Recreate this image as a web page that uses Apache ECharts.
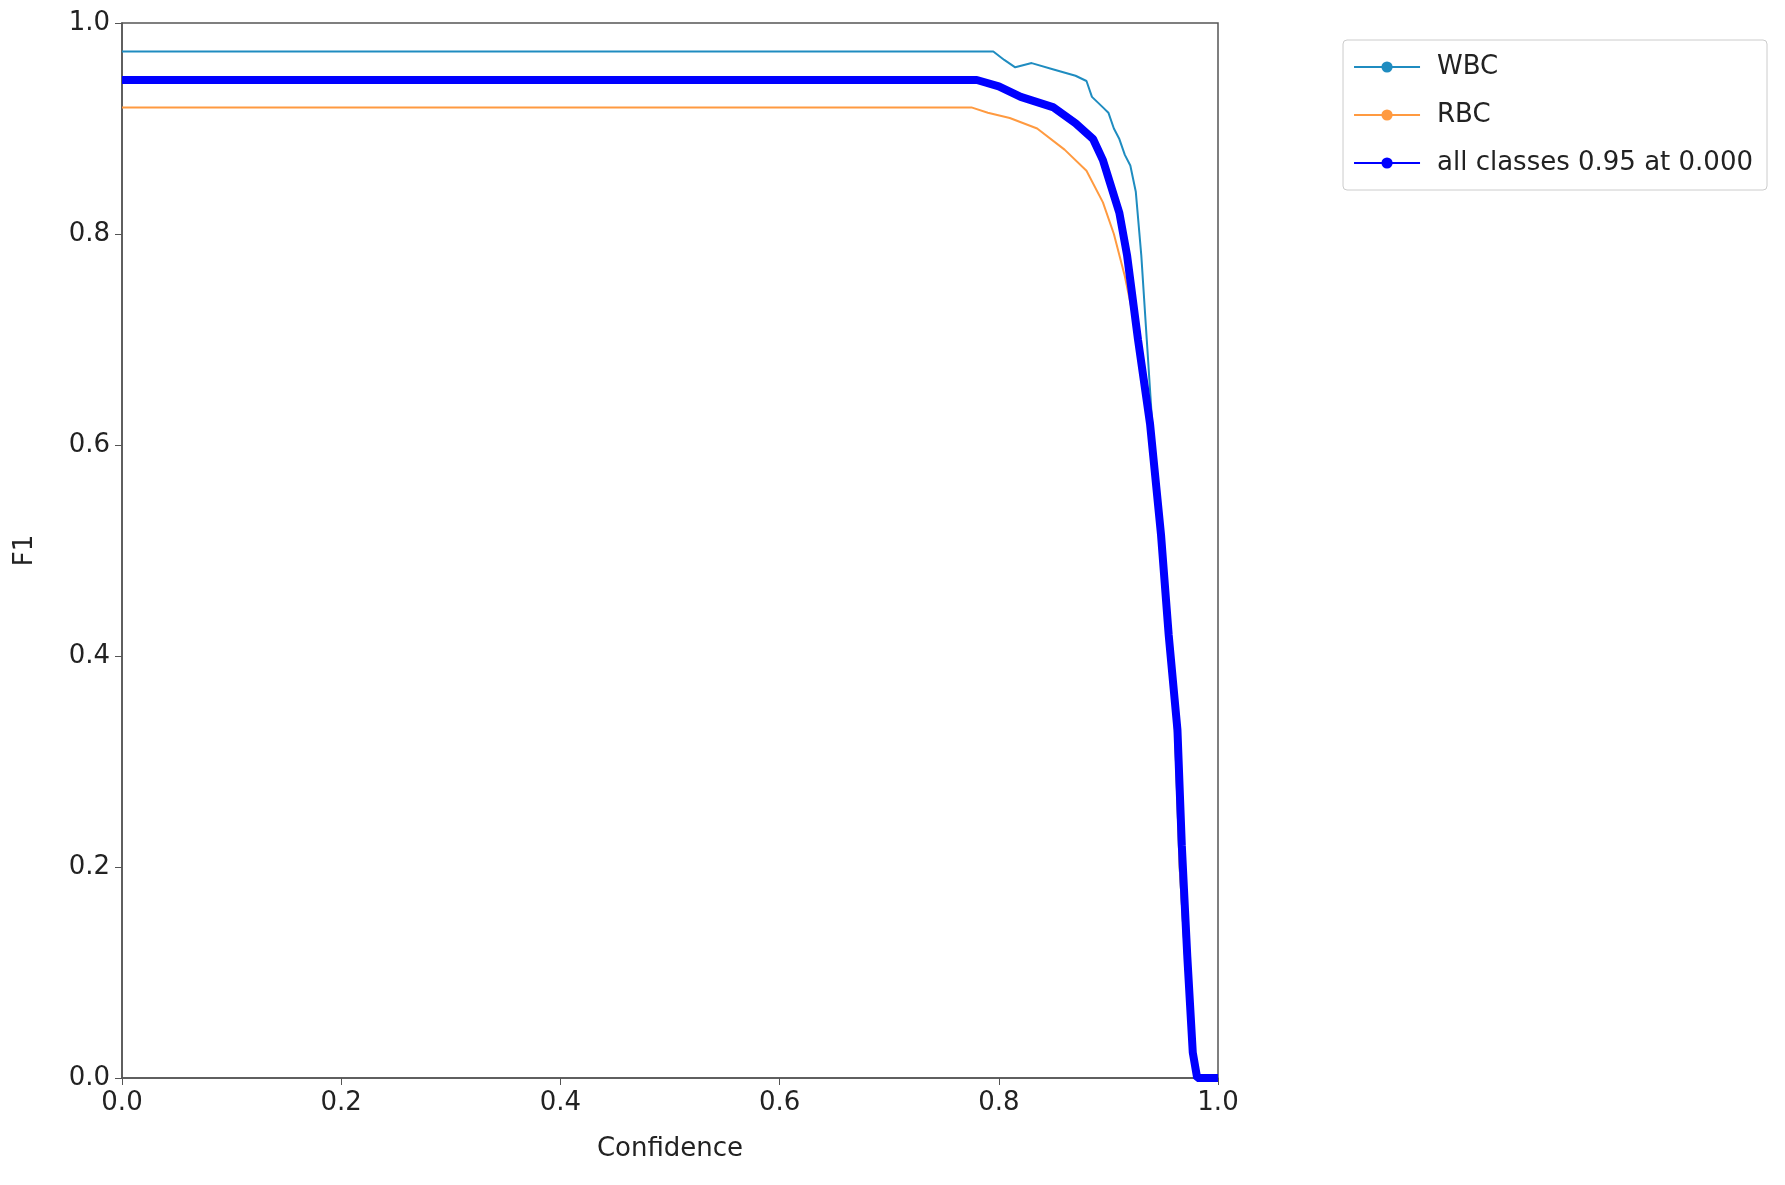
<!DOCTYPE html>
<html lang="en">
  <head>
    <meta charset="UTF-8">
    <title>F1 curve</title>
    <style>
      html, body { margin: 0; background: #fff; }
      .chart { width: 1785px; height: 1185px; }
    </style>
  </head>
  <body>
    <div id="chart" class="chart"></div>
    <script src="https://cdn.jsdelivr.net/npm/echarts@6/dist/echarts.min.js"></script>
    <script type="text/javascript">
      // confidence / F1 pairs
      var wbcData = [[0, 0.973], [0.795, 0.973], [0.805, 0.965], [0.815, 0.958], [0.83, 0.962], [0.85, 0.956], [0.87, 0.95],
        [0.88, 0.945], [0.885, 0.93], [0.895, 0.92], [0.9, 0.915], [0.905, 0.9], [0.91, 0.89], [0.915, 0.875],
        [0.92, 0.865], [0.925, 0.84], [0.93, 0.78], [0.935, 0.70], [0.94, 0.62], [0.95, 0.50], [0.96, 0.35],
        [0.965, 0.20], [0.972, 0.08], [0.977, 0.02], [0.982, 0], [1.0, 0]];
      var rbcData = [[0, 0.92], [0.775, 0.92], [0.79, 0.915], [0.81, 0.91], [0.835, 0.90], [0.86, 0.88], [0.88, 0.86],
        [0.895, 0.83], [0.905, 0.80], [0.915, 0.76], [0.925, 0.71], [0.935, 0.66], [0.94, 0.62], [0.95, 0.50],
        [0.96, 0.35], [0.965, 0.20], [0.972, 0.08], [0.977, 0.02], [0.982, 0], [1.0, 0]];
      var allData = [[0, 0.946], [0.78, 0.946], [0.8, 0.94], [0.82, 0.93], [0.85, 0.92], [0.87, 0.905], [0.886, 0.89],
        [0.895, 0.87], [0.901, 0.85], [0.91, 0.82], [0.917, 0.78], [0.927, 0.70], [0.938, 0.62], [0.948, 0.515],
        [0.955, 0.42], [0.963, 0.33], [0.967, 0.22], [0.972, 0.115], [0.977, 0.024], [0.981, 0], [1.0, 0]];
      var seriesNames = ['WBC', 'RBC', 'all classes 0.95 at 0.000'];

      var myChart = echarts.init(document.getElementById('chart'));
      var font = 'DejaVu Sans';
      var axisLabel = { color: '#222', fontSize: 26, fontFamily: font, margin: 12 };
      option = {
        backgroundColor: '#fff',
        animation: false,
        grid: { left: 122, right: 567, top: 23, bottom: 107, show: true, borderColor: '#555', borderWidth: 1.5 },
        legend: {
          right: 18, top: 40,
          orient: 'vertical',
          itemWidth: 66, itemHeight: 14, itemGap: 22,
          padding: [14, 14, 14, 10],
          borderColor: '#ccc', borderWidth: 1, borderRadius: 4,
          textStyle: { fontSize: 26, fontFamily: font, color: '#222', padding: [0, 0, 0, 12] },
          data: seriesNames
        },
        xAxis: {
          type: 'value', min: 0, max: 1, interval: 0.2,
          name: 'Confidence', nameLocation: 'middle', nameGap: 58,
          nameTextStyle: { fontSize: 26, fontFamily: font, color: '#222' },
          axisLine: { lineStyle: { color: '#555', width: 1.5 } },
          axisTick: { show: true, length: 7, lineStyle: { color: '#555' } },
          axisLabel: Object.assign({ formatter: function (v) { return v.toFixed(1); } }, axisLabel),
          splitLine: { show: false }
        },
        yAxis: {
          type: 'value', min: 0, max: 1, interval: 0.2,
          name: 'F1', nameLocation: 'middle', nameGap: 84,
          nameTextStyle: { fontSize: 26, fontFamily: font, color: '#222' },
          axisLine: { show: true, lineStyle: { color: '#555', width: 1.5 } },
          axisTick: { show: true, length: 7, lineStyle: { color: '#555' } },
          axisLabel: Object.assign({ formatter: function (v) { return v.toFixed(1); } }, axisLabel),
          splitLine: { show: false }
        },
        series: [{
          name: seriesNames[0], type: 'line', data: wbcData, symbol: 'none',
          color: '#1f8cc0', lineStyle: { width: 2, color: '#1f8cc0' }
        }, {
          name: seriesNames[1], type: 'line', data: rbcData, symbol: 'none',
          color: '#ff9a40', lineStyle: { width: 2, color: '#ff9a40' }
        }, {
          name: seriesNames[2], type: 'line', data: allData, symbol: 'none',
          color: '#0000ff', lineStyle: { width: 8, color: '#0000ff' }
        }]
      };
      myChart.setOption(option);
    </script>
  </body>
</html>
